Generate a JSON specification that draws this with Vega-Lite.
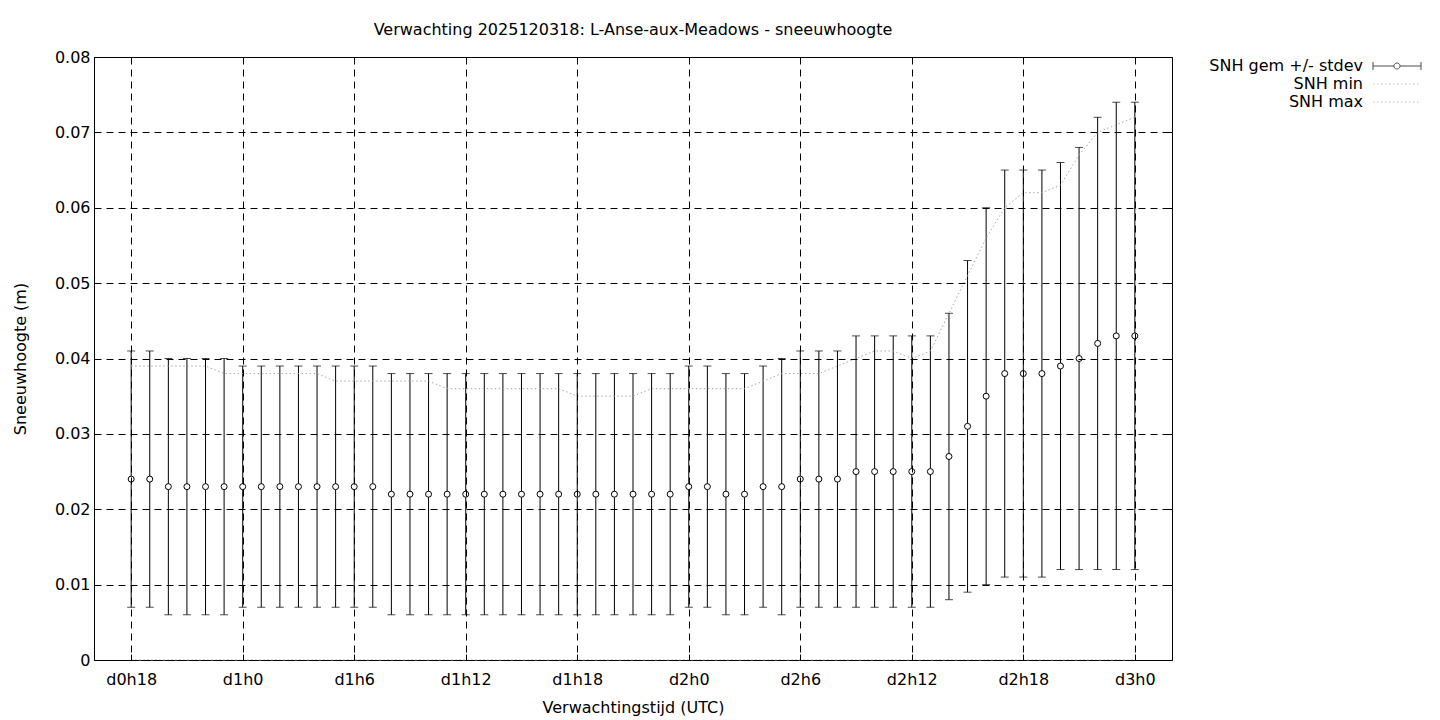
{
  "$schema": "https://vega.github.io/schema/vega-lite/v6.json",
  "width": 1078,
  "height": 603,
  "autosize": {"type": "none"},
  "padding": {"left": 94, "top": 57, "right": 268, "bottom": 60},
  "background": "white",
  "title": {
    "text": "Verwachting 2025120318: L-Anse-aux-Meadows - sneeuwhoogte",
    "anchor": "middle",
    "font": "DejaVu Sans",
    "fontSize": 16,
    "fontWeight": "normal",
    "color": "black",
    "offset": 11
  },
  "config": {
    "view": {"stroke": "black", "strokeWidth": 1},
    "font": "DejaVu Sans",
    "axis": {
      "labelFont": "DejaVu Sans",
      "labelFontSize": 16,
      "labelColor": "black",
      "titleFont": "DejaVu Sans",
      "titleFontSize": 16,
      "titleFontWeight": "normal",
      "titleColor": "black",
      "domainColor": "black",
      "tickColor": "black",
      "gridColor": "black",
      "gridDash": [7, 5],
      "gridOpacity": 1,
      "gridWidth": 1
    }
  },
  "data": {
    "values": [
      {"t": 18, "mean": 0.024, "lo": 0.007, "hi": 0.041, "max": 0.039, "min": 0},
      {"t": 19, "mean": 0.024, "lo": 0.007, "hi": 0.041, "max": 0.039, "min": 0},
      {"t": 20, "mean": 0.023, "lo": 0.006, "hi": 0.040, "max": 0.039, "min": 0},
      {"t": 21, "mean": 0.023, "lo": 0.006, "hi": 0.040, "max": 0.039, "min": 0},
      {"t": 22, "mean": 0.023, "lo": 0.006, "hi": 0.040, "max": 0.039, "min": 0},
      {"t": 23, "mean": 0.023, "lo": 0.006, "hi": 0.040, "max": 0.038, "min": 0},
      {"t": 24, "mean": 0.023, "lo": 0.007, "hi": 0.039, "max": 0.038, "min": 0},
      {"t": 25, "mean": 0.023, "lo": 0.007, "hi": 0.039, "max": 0.038, "min": 0},
      {"t": 26, "mean": 0.023, "lo": 0.007, "hi": 0.039, "max": 0.038, "min": 0},
      {"t": 27, "mean": 0.023, "lo": 0.007, "hi": 0.039, "max": 0.038, "min": 0},
      {"t": 28, "mean": 0.023, "lo": 0.007, "hi": 0.039, "max": 0.038, "min": 0},
      {"t": 29, "mean": 0.023, "lo": 0.007, "hi": 0.039, "max": 0.037, "min": 0},
      {"t": 30, "mean": 0.023, "lo": 0.007, "hi": 0.039, "max": 0.037, "min": 0},
      {"t": 31, "mean": 0.023, "lo": 0.007, "hi": 0.039, "max": 0.037, "min": 0},
      {"t": 32, "mean": 0.022, "lo": 0.006, "hi": 0.038, "max": 0.037, "min": 0},
      {"t": 33, "mean": 0.022, "lo": 0.006, "hi": 0.038, "max": 0.037, "min": 0},
      {"t": 34, "mean": 0.022, "lo": 0.006, "hi": 0.038, "max": 0.037, "min": 0},
      {"t": 35, "mean": 0.022, "lo": 0.006, "hi": 0.038, "max": 0.036, "min": 0},
      {"t": 36, "mean": 0.022, "lo": 0.006, "hi": 0.038, "max": 0.036, "min": 0},
      {"t": 37, "mean": 0.022, "lo": 0.006, "hi": 0.038, "max": 0.036, "min": 0},
      {"t": 38, "mean": 0.022, "lo": 0.006, "hi": 0.038, "max": 0.036, "min": 0},
      {"t": 39, "mean": 0.022, "lo": 0.006, "hi": 0.038, "max": 0.036, "min": 0},
      {"t": 40, "mean": 0.022, "lo": 0.006, "hi": 0.038, "max": 0.036, "min": 0},
      {"t": 41, "mean": 0.022, "lo": 0.006, "hi": 0.038, "max": 0.036, "min": 0},
      {"t": 42, "mean": 0.022, "lo": 0.006, "hi": 0.038, "max": 0.035, "min": 0},
      {"t": 43, "mean": 0.022, "lo": 0.006, "hi": 0.038, "max": 0.035, "min": 0},
      {"t": 44, "mean": 0.022, "lo": 0.006, "hi": 0.038, "max": 0.035, "min": 0},
      {"t": 45, "mean": 0.022, "lo": 0.006, "hi": 0.038, "max": 0.035, "min": 0},
      {"t": 46, "mean": 0.022, "lo": 0.006, "hi": 0.038, "max": 0.036, "min": 0},
      {"t": 47, "mean": 0.022, "lo": 0.006, "hi": 0.038, "max": 0.036, "min": 0},
      {"t": 48, "mean": 0.023, "lo": 0.007, "hi": 0.039, "max": 0.036, "min": 0},
      {"t": 49, "mean": 0.023, "lo": 0.007, "hi": 0.039, "max": 0.036, "min": 0},
      {"t": 50, "mean": 0.022, "lo": 0.006, "hi": 0.038, "max": 0.036, "min": 0},
      {"t": 51, "mean": 0.022, "lo": 0.006, "hi": 0.038, "max": 0.036, "min": 0},
      {"t": 52, "mean": 0.023, "lo": 0.007, "hi": 0.039, "max": 0.037, "min": 0},
      {"t": 53, "mean": 0.023, "lo": 0.006, "hi": 0.040, "max": 0.038, "min": 0},
      {"t": 54, "mean": 0.024, "lo": 0.007, "hi": 0.041, "max": 0.038, "min": 0},
      {"t": 55, "mean": 0.024, "lo": 0.007, "hi": 0.041, "max": 0.038, "min": 0},
      {"t": 56, "mean": 0.024, "lo": 0.007, "hi": 0.041, "max": 0.039, "min": 0},
      {"t": 57, "mean": 0.025, "lo": 0.007, "hi": 0.043, "max": 0.040, "min": 0},
      {"t": 58, "mean": 0.025, "lo": 0.007, "hi": 0.043, "max": 0.041, "min": 0},
      {"t": 59, "mean": 0.025, "lo": 0.007, "hi": 0.043, "max": 0.041, "min": 0},
      {"t": 60, "mean": 0.025, "lo": 0.007, "hi": 0.043, "max": 0.040, "min": 0},
      {"t": 61, "mean": 0.025, "lo": 0.007, "hi": 0.043, "max": 0.041, "min": 0},
      {"t": 62, "mean": 0.027, "lo": 0.008, "hi": 0.046, "max": 0.046, "min": 0},
      {"t": 63, "mean": 0.031, "lo": 0.009, "hi": 0.053, "max": 0.051, "min": 0},
      {"t": 64, "mean": 0.035, "lo": 0.010, "hi": 0.060, "max": 0.056, "min": 0},
      {"t": 65, "mean": 0.038, "lo": 0.011, "hi": 0.065, "max": 0.060, "min": 0},
      {"t": 66, "mean": 0.038, "lo": 0.011, "hi": 0.065, "max": 0.062, "min": 0},
      {"t": 67, "mean": 0.038, "lo": 0.011, "hi": 0.065, "max": 0.062, "min": 0},
      {"t": 68, "mean": 0.039, "lo": 0.012, "hi": 0.066, "max": 0.063, "min": 0},
      {"t": 69, "mean": 0.040, "lo": 0.012, "hi": 0.068, "max": 0.067, "min": 0},
      {"t": 70, "mean": 0.042, "lo": 0.012, "hi": 0.072, "max": 0.070, "min": 0},
      {"t": 71, "mean": 0.043, "lo": 0.012, "hi": 0.074, "max": 0.071, "min": 0},
      {"t": 72, "mean": 0.043, "lo": 0.012, "hi": 0.074, "max": 0.072, "min": 0}
    ]
  },
  "resolve": {"axis": {"x": "independent", "y": "independent"}},
  "layer": [
    {
      "mark": {"type": "rule", "color": "black", "strokeWidth": 1},
      "encoding": {
        "x": {
          "field": "t", "type": "quantitative",
          "scale": {"domain": [16, 74], "nice": false, "zero": false},
          "axis": {
            "orient": "bottom",
            "title": "Verwachtingstijd (UTC)",
            "values": [18, 24, 30, 36, 42, 48, 54, 60, 66, 72],
            "labelExpr": "'d' + floor(datum.value / 24) + 'h' + (datum.value % 24)",
            "grid": true,
            "tickSize": -6,
            "labelPadding": 17,
            "titlePadding": 12,
            "domain": false,
            "zindex": 1
          }
        },
        "y": {
          "field": "lo", "type": "quantitative",
          "scale": {"domain": [0, 0.08], "nice": false, "zero": false},
          "axis": {
            "orient": "left",
            "title": "Sneeuwhoogte (m)",
            "values": [0, 0.01, 0.02, 0.03, 0.04, 0.05, 0.06, 0.07, 0.08],
            "labelExpr": "datum.value == 0 ? '0' : format(datum.value, '.2f')",
            "grid": true,
            "tickSize": -6,
            "labelPadding": 10,
            "titlePadding": 26,
            "domain": false,
            "zindex": 1
          }
        },
        "y2": {"field": "hi"}
      }
    },
    {
      "mark": {"type": "tick", "orient": "horizontal", "size": 8, "thickness": 1, "color": "black"},
      "encoding": {
        "x": {"field": "t", "type": "quantitative", "axis": null},
        "y": {"field": "lo", "type": "quantitative", "axis": null}
      }
    },
    {
      "mark": {"type": "tick", "orient": "horizontal", "size": 8, "thickness": 1, "color": "black"},
      "encoding": {
        "x": {
          "field": "t", "type": "quantitative",
          "axis": {
            "orient": "top", "title": null, "labels": false, "grid": false, "domain": false,
            "values": [18, 24, 30, 36, 42, 48, 54, 60, 66, 72], "tickSize": -6, "zindex": 1
          }
        },
        "y": {
          "field": "hi", "type": "quantitative",
          "axis": {
            "orient": "right", "title": null, "labels": false, "grid": false, "domain": false,
            "values": [0, 0.01, 0.02, 0.03, 0.04, 0.05, 0.06, 0.07, 0.08], "tickSize": -6, "zindex": 1
          }
        }
      }
    },
    {
      "mark": {"type": "line", "color": "#a8a8a8", "strokeWidth": 1, "strokeDash": [1.5, 2.5]},
      "encoding": {
        "x": {"field": "t", "type": "quantitative", "axis": null},
        "y": {"field": "min", "type": "quantitative", "axis": null}
      }
    },
    {
      "mark": {"type": "line", "color": "#a8a8a8", "strokeWidth": 1, "strokeDash": [1.5, 2.5]},
      "encoding": {
        "x": {"field": "t", "type": "quantitative", "axis": null},
        "y": {"field": "max", "type": "quantitative", "axis": null}
      }
    },
    {
      "mark": {"type": "point", "shape": "circle", "filled": true, "fill": "white", "stroke": "black", "strokeWidth": 1, "size": 36, "opacity": 1},
      "encoding": {
        "x": {"field": "t", "type": "quantitative", "axis": null},
        "y": {"field": "mean", "type": "quantitative", "axis": null}
      }
    },
    {
      "data": {"values": [
        {"series": "SNH gem +/- stdev"},
        {"series": "SNH min"},
        {"series": "SNH max"}
      ]},
      "transform": [{"filter": "false"}],
      "mark": {"type": "point", "filled": false, "strokeWidth": 1},
      "encoding": {
        "shape": {
          "field": "series", "type": "nominal",
          "scale": {
            "domain": ["SNH gem +/- stdev", "SNH min", "SNH max"],
            "range": [
              "M-3.43,-0.57L-3.43,0.57M-3.43,0L-0.43,0M0.43,0L3.43,0M3.43,-0.57L3.43,0.57M0.43,0A0.43,0.43 0 1,1 -0.43,0A0.43,0.43 0 1,1 0.43,0",
              "M-3.43,0L3.43,0",
              "M-3.43,0L3.43,0"
            ]
          },
          "legend": {
            "orient": "none",
            "legendX": 1295,
            "legendY": 1,
            "title": null,
            "labelFont": "DejaVu Sans",
            "labelFontSize": 16,
            "labelColor": "black",
            "labelAlign": "right",
            "labelOffset": -42,
            "symbolSize": 196,
            "symbolStrokeWidth": 1,
            "rowPadding": 2,
            "padding": 0
          }
        },
        "stroke": {
          "field": "series", "type": "nominal",
          "scale": {"domain": ["SNH gem +/- stdev", "SNH min", "SNH max"], "range": ["#000000", "#a8a8a8", "#a8a8a8"]}
        },
        "strokeDash": {
          "field": "series", "type": "nominal",
          "scale": {"domain": ["SNH gem +/- stdev", "SNH min", "SNH max"], "range": [[1, 0], [1.5, 2.5], [1.5, 2.5]]}
        }
      }
    }
  ]
}
